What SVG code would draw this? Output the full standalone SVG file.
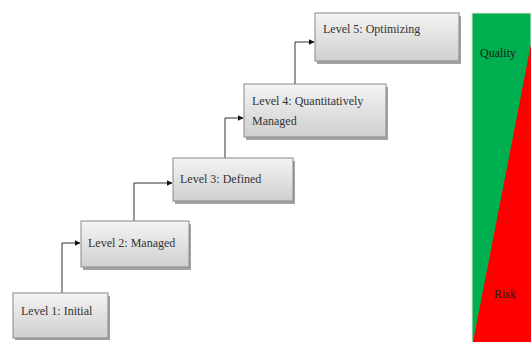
<svg xmlns="http://www.w3.org/2000/svg" width="531" height="342" viewBox="0 0 531 342">
<style>
.box{fill:url(#g);stroke:#8a8a8a;stroke-width:1}
.sh{fill:#7a7a7a;opacity:0.7}
.t{font-family:"Liberation Serif",serif;font-size:12px;fill:#333}
.c{fill:none;stroke:#333;stroke-width:1}
.lab{font-family:"Liberation Serif",serif;font-size:12px;fill:#1a1a1a}
</style>
<defs>
<linearGradient id="g" x1="0" y1="0" x2="0" y2="1">
<stop offset="0" stop-color="#f4f4f4"/>
<stop offset="1" stop-color="#cfcfcf"/>
</linearGradient>
<marker id="a" viewBox="0 0 10 10" refX="9" refY="5" markerWidth="6" markerHeight="6" orient="auto" markerUnits="userSpaceOnUse">
<path d="M0,0 L10,5 L0,10 z" fill="#111"/>
</marker>
</defs>
<rect width="531" height="342" fill="#fff"/>
<g id="connectors">
<path class="c" d="M62,293 V243 H80" marker-end="url(#a)"/>
<path class="c" d="M134,221 V183 H172" marker-end="url(#a)"/>
<path class="c" d="M225,158 V118 H243" marker-end="url(#a)"/>
<path class="c" d="M295,84 V42 H314" marker-end="url(#a)"/>
</g>
<g id="level1">
<rect class="sh" x="15" y="296" width="95" height="44"/>
<rect class="box" x="13" y="293" width="95" height="45"/>
<text class="t" x="21" y="315">Level 1: Initial</text>
</g>
<g id="level2">
<rect class="sh" x="83" y="224" width="108" height="46"/>
<rect class="box" x="81" y="221" width="108" height="46"/>
<text class="t" x="88" y="247">Level 2: Managed</text>
</g>
<g id="level3">
<rect class="sh" x="175" y="161" width="120" height="43"/>
<rect class="box" x="173" y="158" width="120" height="43"/>
<text class="t" x="180" y="183">Level 3: Defined</text>
</g>
<g id="level4">
<rect class="sh" x="246" y="87" width="142" height="53"/>
<rect class="box" x="244" y="84" width="142" height="53"/>
<text class="t" x="252" y="105">Level 4: Quantitatively</text>
<text class="t" x="252" y="125">Managed</text>
</g>
<g id="level5">
<rect class="sh" x="317" y="16" width="144" height="48"/>
<rect class="box" x="315" y="13" width="144" height="48"/>
<text class="t" x="323" y="33">Level 5: Optimizing</text>
</g>
<g id="scale">
<rect x="472" y="13" width="59" height="329" fill="#00b050" stroke="#e8e8d8" stroke-width="1"/>
<polygon points="531,44 531,342 473,342" fill="#ff0000"/>
<text class="lab" x="480" y="57">Quality</text>
<text class="lab" x="494" y="298">Risk</text>
</g>
</svg>
